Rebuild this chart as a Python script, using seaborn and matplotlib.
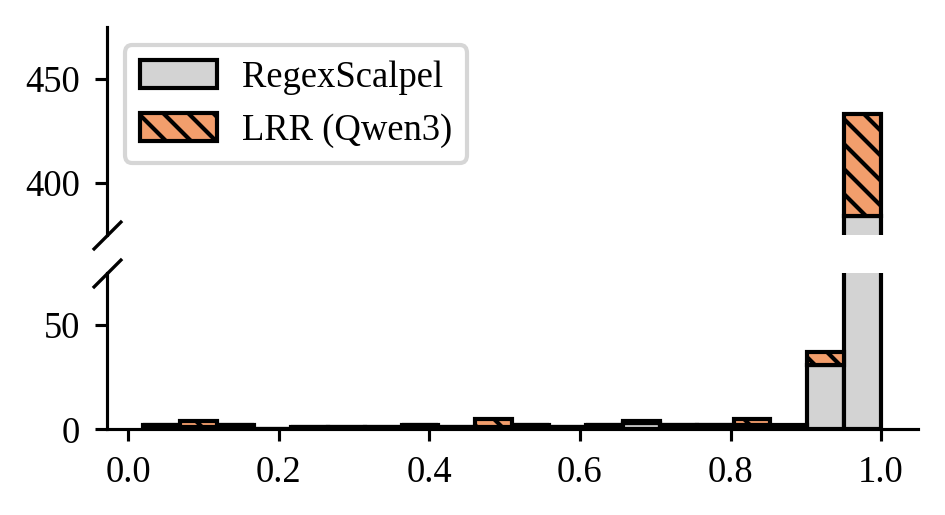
import numpy as np
import pandas as pd
import matplotlib
matplotlib.use("Agg")
import matplotlib.pyplot as plt
from matplotlib.colors import to_hex
from matplotlib.patches import Patch
import seaborn as sns

# score histogram: 20 equal bins between the lowest and highest score
bin_lo, bin_hi, n_bins = 0.02, 1.0, 20
regex_counts = [2, 1, 2, 0, 1, 1, 1, 2, 1, 1, 2, 1, 2, 3, 2, 2, 2, 0, 31, 384]
lrr_counts = [0, 3, 0, 0, 0, 0, 0, 0, 0, 4, 0, 0, 0, 1, 0, 0, 3, 2, 6, 49]
methods = ["RegexScalpel", "LRR (Qwen3)"]
colors = ["#d3d3d3", "#f29e6c"]

edges = np.linspace(bin_lo, bin_hi, n_bins + 1)
centers = (edges[:-1] + edges[1:]) / 2
df = pd.DataFrame({
    "score": np.concatenate([centers, centers]),
    "count": regex_counts + lrr_counts,
    "method": [methods[0]] * n_bins + [methods[1]] * n_bins,
})

sns.set_style("ticks")
plt.rcParams["font.family"] = ["Liberation Serif", "DejaVu Serif"]
plt.rcParams["font.size"] = 8.8
plt.rcParams["text.color"] = "black"
plt.rcParams["hatch.linewidth"] = 1.0
plt.rcParams["axes.linewidth"] = 0.75
plt.rcParams["xtick.major.size"] = 2.8
plt.rcParams["ytick.major.size"] = 2.8
plt.rcParams["xtick.major.width"] = 0.75
plt.rcParams["ytick.major.width"] = 0.75
plt.rcParams["axes.edgecolor"] = "black"
plt.rcParams["xtick.color"] = "black"
plt.rcParams["ytick.color"] = "black"

fig = plt.figure(figsize=(3.15, 515 / 300), dpi=300)
ax_top = fig.add_axes([0.1127, 0.5437, 0.8587, 0.4039])
ax_bot = fig.add_axes([0.1127, 0.1664, 0.8587, 0.3037], sharex=ax_top)

hatch = "\\" * 4
for ax in (ax_top, ax_bot):
    # seaborn stacks the last hue level at the bottom, so reverse the order
    sns.histplot(data=df, x="score", weights="count", hue="method",
                 hue_order=methods[::-1], palette=dict(zip(methods, colors)),
                 bins=n_bins, binrange=(bin_lo, bin_hi), multiple="stack",
                 alpha=1, edgecolor="black", linewidth=1.0, legend=False, ax=ax)
    for p in ax.patches:
        if to_hex(p.get_facecolor()) == colors[1]:
            p.set_hatch(hatch)
    ax.set_xlabel("")
    ax.set_ylabel("")
    ax.spines["top"].set_visible(False)
    ax.spines["right"].set_visible(False)

ax_top.set_ylim(375, 475)
ax_bot.set_ylim(0, 75)
ax_top.set_yticks([400, 450])
ax_bot.set_yticks([0, 50])
ax_bot.set_xticks([0.0, 0.2, 0.4, 0.6, 0.8, 1.0])
ax_top.spines["bottom"].set_visible(False)
ax_top.tick_params(bottom=False, labelbottom=False)

# break marks on the left spine
kw = dict(marker=[(-1, -1), (1, 1)], markersize=7, linestyle="none",
          color="k", mec="k", mew=0.8, clip_on=False)
ax_top.plot([0], [0], transform=ax_top.transAxes, **kw)
ax_bot.plot([0], [1], transform=ax_bot.transAxes, **kw)

handles = [
    Patch(facecolor=colors[0], edgecolor="black", linewidth=1.0, label=methods[0]),
    Patch(facecolor=colors[1], edgecolor="black", linewidth=1.0, hatch=hatch, label=methods[1]),
]
ax_top.legend(handles=handles, loc="upper left", labelcolor="black",
              handlelength=2.1, handleheight=0.8, handletextpad=0.7)

fig.savefig("out.png", dpi=300)
